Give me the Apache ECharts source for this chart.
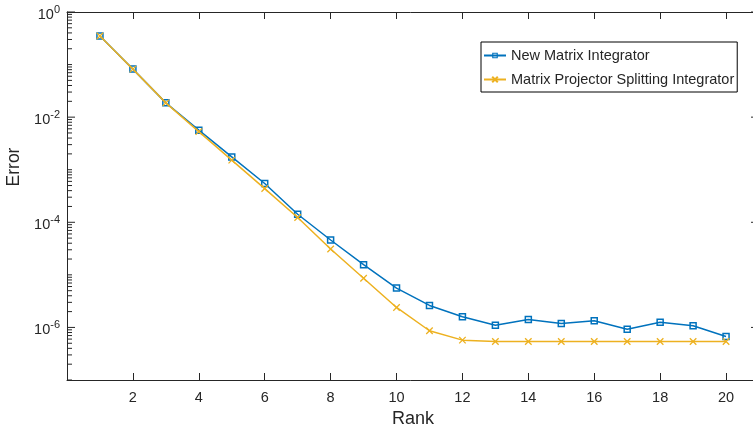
<!DOCTYPE html>
<html>
<head>
<meta charset="utf-8">
<script src="https://cdn.jsdelivr.net/npm/echarts@6/dist/echarts.min.js"></script>
<style>html,body{margin:0;padding:0;background:#fff;}#c{width:753px;height:431px;}</style>
</head>
<body>
<div id="c"></div>
<script>
const ranks = [1,2,3,4,5,6,7,8,9,10,11,12,13,14,15,16,17,18,19,20];
const newIntegrator = [0.349,0.082,0.0187,0.00565,0.00175,5.46e-4,1.42e-4,4.6e-5,1.56e-5,5.6e-6,2.62e-6,1.6e-6,1.1e-6,1.42e-6,1.19e-6,1.34e-6,9.2e-7,1.26e-6,1.08e-6,6.7e-7];
const projectorSplitting = [0.349,0.082,0.0187,0.0053,0.00152,4.38e-4,1.23e-4,3.1e-5,8.6e-6,2.4e-6,8.65e-7,5.73e-7,5.4e-7,5.4e-7,5.4e-7,5.4e-7,5.4e-7,5.4e-7,5.4e-7,5.4e-7];
const seriesNames = ['New Matrix Integrator','Matrix Projector Splitting Integrator'];
const xTicks = [2,4,6,8,10,12,14,16,18,20];
const yLabelExponents = [0,-2,-4,-6];

const FONT = 'Liberation Sans, Arial, Helvetica, sans-serif';
const INK = '#262626';
const BLUE = '#0072BD';
const YELLOW = '#EDB120';

// axis tick marks (minor: 2..9 x 10^e, major: labelled decades)
const tickData = [];
for (let e = -7; e <= 0; e++) {
  for (let m = 1; m <= 9; m++) {
    const v = m * Math.pow(10, e);
    if (v > 1.0000001) continue;
    const major = (m === 1 && yLabelExponents.indexOf(e) >= 0) ? 1 : 0;
    tickData.push([0, v, major]);
  }
}

const hollowSquare = 'path://M0,0H10V10H0Z M2,2V8H8V2Z';
const crossMark = 'path://M0,0L10,10M10,0L0,10';

const chart = echarts.init(document.getElementById('c'), null, {renderer: 'canvas'});
chart.setOption({
  animation: false,
  backgroundColor: '#fff',
  grid: {left: 67, width: 692, top: 12, bottom: 51, containLabel: false, outerBoundsMode: 'none'},
  legend: {
    data: seriesNames,
    orient: 'vertical',
    left: 481,
    top: 42,
    padding: [6, 3, 5, 2],
    itemGap: 9,
    itemWidth: 22,
    itemHeight: 7,
    borderColor: '#000',
    borderWidth: 1,
    backgroundColor: '#fff',
    textStyle: {fontFamily: FONT, fontSize: 14.5, color: INK}
  },
  xAxis: [{
    type: 'value', min: 0, max: 21, interval: 2,
    name: 'Rank', nameLocation: 'middle', nameGap: 28,
    nameTextStyle: {fontFamily: FONT, fontSize: 18, color: INK},
    axisLine: {show: true, lineStyle: {color: INK, width: 1}},
    axisTick: {show: true, inside: true, length: 7, lineStyle: {color: INK}},
    axisLabel: {
      fontFamily: FONT, fontSize: 14.5, color: INK, margin: 10,
      formatter: v => (xTicks.indexOf(v) >= 0 ? String(v) : '')
    },
    splitLine: {show: false}
  }, {
    type: 'value', position: 'top', min: 0, max: 21, interval: 2,
    axisLine: {show: true, lineStyle: {color: INK, width: 1}},
    axisTick: {show: true, inside: true, length: 7, lineStyle: {color: INK}},
    axisLabel: {show: false},
    splitLine: {show: false}
  }],
  yAxis: [{
    type: 'log', min: 1e-7, max: 1, logBase: 10, interval: 1,
    name: 'Error', nameLocation: 'middle', nameGap: 44,
    nameTextStyle: {fontFamily: FONT, fontSize: 17.5, color: INK, padding: [0, 0, 0, 58]},
    axisLine: {show: true, lineStyle: {color: INK, width: 1}},
    axisTick: {show: false},
    splitLine: {show: false},
    axisLabel: {
      margin: 7,
      formatter: function (v) {
        const e = Math.round(Math.log10(v));
        if (yLabelExponents.indexOf(e) < 0) return '';
        return '{b|10}{s|' + e + '}';
      },
      rich: {
        b: {fontFamily: FONT, fontSize: 14.5, color: INK, lineHeight: 16, padding: [6, 0, 0, 0]},
        s: {fontFamily: FONT, fontSize: 11, color: INK, verticalAlign: 'top', lineHeight: 11}
      }
    }
  }],
  series: [{
    type: 'custom',
    name: 'ticks',
    silent: true,
    clip: false,
    z: 1,
    data: tickData,
    encode: {x: 0, y: 1},
    renderItem: function (params, api) {
      const v = api.value(1);
      const len = api.value(2) ? 8 : 5;
      const pL = api.coord([0, v]);
      const pR = api.coord([21, v]);
      return {
        type: 'group',
        children: [
          {type: 'line', shape: {x1: pL[0], y1: pL[1], x2: pL[0] + len, y2: pL[1]}, style: {stroke: INK, lineWidth: 1}},
          {type: 'line', shape: {x1: pR[0] - len, y1: pR[1], x2: pR[0], y2: pR[1]}, style: {stroke: INK, lineWidth: 1}}
        ]
      };
    }
  }, {
    type: 'line',
    name: seriesNames[0],
    data: ranks.map((r, i) => [r, newIntegrator[i]]),
    symbol: hollowSquare,
    symbolSize: 7.5,
    showAllSymbol: true,
    lineStyle: {color: BLUE, width: 1.5},
    itemStyle: {color: BLUE},
    z: 3
  }, {
    type: 'line',
    name: seriesNames[1],
    data: ranks.map((r, i) => [r, projectorSplitting[i]]),
    symbol: crossMark,
    symbolSize: 6.5,
    showAllSymbol: true,
    lineStyle: {color: YELLOW, width: 1.5},
    itemStyle: {color: YELLOW, borderColor: YELLOW, borderWidth: 1.3},
    z: 4
  }]
});
</script>
</body>
</html>
